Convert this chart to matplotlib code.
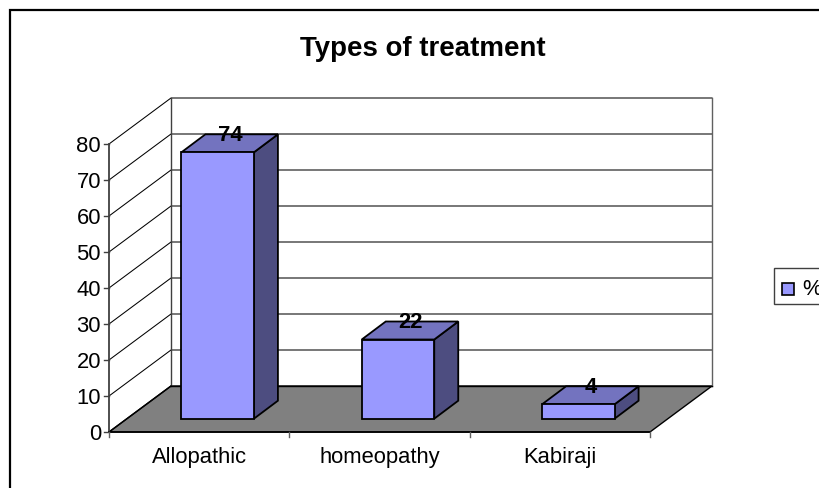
import matplotlib
matplotlib.use("Agg")
import matplotlib.pyplot as plt
from matplotlib.patches import Polygon, Rectangle

categories = ["Allopathic", "homeopathy", "Kabiraji"]
values = [74, 22, 4]
y_ticks = [0, 10, 20, 30, 40, 50, 60, 70, 80]
series_name = "%"
title = "Types of treatment"

plt.rcParams["font.family"] = ["Liberation Sans", "DejaVu Sans"]

W, H = 820, 488
fig = plt.figure(figsize=(W / 100, H / 100), dpi=100)
ax = fig.add_axes([0, 0, 1, 1])
ax.set_xlim(0, W)
ax.set_ylim(H, 0)
ax.axis("off")

# projection of the 3D chart box into figure pixels
X0, Y0 = 109, 432
PX_PER_VALUE = 3.6
CAT_W = 180.33
DX, DY = 62, -46
BAR_W = 72.5
BAR_SHIFT = 18.5
BAR_DX, BAR_DY = 24, -18
BAR_BASE = 418.7
FS = 15.8


def vy(v):
    return Y0 - v * PX_PER_VALUE


right = X0 + CAT_W * len(categories)
top = vy(y_ticks[-1])

# floor
ax.add_patch(Polygon([(X0, Y0), (right, Y0), (right + DX, Y0 + DY), (X0 + DX, Y0 + DY)],
                     closed=True, fc="#808080", ec="black", lw=1.0, zorder=1))
# walls and gridlines
for t in y_ticks[1:]:
    y = vy(t)
    ax.plot([X0, X0 + DX, right + DX], [y, y + DY, y + DY], color="black", lw=0.75, zorder=2,
            solid_joinstyle="miter")
ax.plot([X0 + DX, X0 + DX], [Y0 + DY, top + DY], color="#404040", lw=1.0, zorder=2)
ax.plot([right + DX, right + DX], [Y0 + DY, top + DY], color="#606060", lw=1.0, zorder=2)
ax.plot([X0 + DX, right + DX], [Y0 + DY, Y0 + DY], color="black", lw=1.0, zorder=2)
ax.plot([X0, X0 + DX], [Y0, Y0 + DY], color="black", lw=1.0, zorder=2)

# axes
ax.plot([X0, X0], [Y0, top], color="#404040", lw=1.3, zorder=3)
ax.plot([X0, right], [Y0, Y0], color="black", lw=1.2, zorder=3)
for t in y_ticks:
    y = vy(t)
    ax.plot([X0 - 5, X0], [y, y], color="#404040", lw=1.0, zorder=3)
    ax.text(X0 - 8, y + 0.5, str(t), ha="right", va="center_baseline", fontsize=FS, color="black")
for i in range(len(categories) + 1):
    x = X0 + CAT_W * i
    ax.plot([x, x], [Y0, Y0 + 5], color="#606060", lw=1.0, zorder=3)

# bars
for i, (c, v) in enumerate(zip(categories, values)):
    x0 = X0 + CAT_W * i + (CAT_W - BAR_W) / 2 + BAR_SHIFT
    x1 = x0 + BAR_W
    yt = BAR_BASE - v * PX_PER_VALUE
    yb = BAR_BASE
    ax.add_patch(Polygon([(x1, yb), (x1 + BAR_DX, yb + BAR_DY), (x1 + BAR_DX, yt + BAR_DY), (x1, yt)],
                         closed=True, fc="#4D4D80", ec="black", lw=1.3, zorder=4))
    ax.add_patch(Polygon([(x0, yt), (x1, yt), (x1 + BAR_DX, yt + BAR_DY), (x0 + BAR_DX, yt + BAR_DY)],
                         closed=True, fc="#7373BF", ec="black", lw=1.3, zorder=4))
    ax.add_patch(Rectangle((x0, yt), BAR_W, yb - yt, fc="#9999FF", ec="black", lw=1.3, zorder=5))
    ax.text(x0 + BAR_W / 2 + 12.5, yt + BAR_DY - 1.5, str(v), ha="center", va="center_baseline",
            fontsize=FS, fontweight="bold", color="black", zorder=6)
    ax.text(X0 + CAT_W * (i + 0.5), 455, c, ha="center", va="center_baseline", fontsize=FS, color="black")

# title
ax.text(423, 46.5, title, ha="center", va="center_baseline", fontsize=19.9, fontweight="bold", color="black")

# chart border (top and left are visible)
ax.plot([10.5, 10.5, W], [H, 10, 10], color="black", lw=1.6, zorder=1, solid_joinstyle="miter")

# legend
ax.add_patch(Rectangle((774, 268), 60, 36, fc="white", ec="#404040", lw=1.0, zorder=1))
ax.add_patch(Rectangle((782.5, 282.5), 12, 12, fc="#9999FF", ec="black", lw=1.2, zorder=2))
ax.text(802, 287, series_name, ha="left", va="center_baseline", fontsize=FS, color="black", zorder=3)

fig.savefig("out.png", dpi=100)
